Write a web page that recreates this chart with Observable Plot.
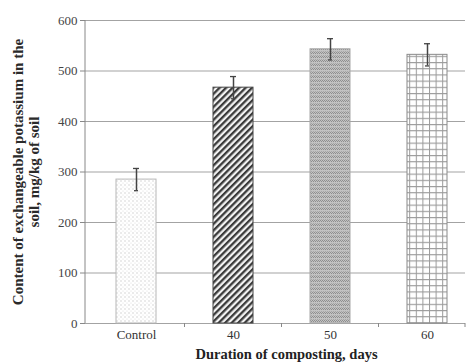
<!DOCTYPE html>
<html>
<head>
<meta charset="utf-8">
<script src="https://cdn.jsdelivr.net/npm/d3@7"></script>
<script src="https://cdn.jsdelivr.net/npm/@observablehq/plot@0.6"></script>
<style>
  html, body { margin: 0; padding: 0; background: #fff; }
  #chart svg { font-family: "Liberation Serif", "Times New Roman", serif; }
</style>
</head>
<body>
<div id="chart"></div>
<script>
const categories = ["Control", "40", "50", "60"];
const values = [285, 467, 543, 532];
const errors = [22, 22, 21, 22];
const yTicks = [0, 100, 200, 300, 400, 500, 600];
const yLabel = "Content of exchangeable potassium in the\nsoil, mg/kg of soil";
const xLabel = "Duration of composting, days";

const data = categories.map((c, i) => ({cat: c, value: values[i], err: errors[i], pat: `url(#pat${i})`}));
const borders = ["#b8b8b8", "#444", "#a8a8a8", "#8a8a8a"];

const W = 468, H = 363;
const mL = 85, mR = 3, mT = 20, mB = 40;

const plot = Plot.plot({
  width: W,
  height: H,
  marginLeft: mL,
  marginRight: mR,
  marginTop: mT,
  marginBottom: mB,
  style: {fontFamily: "'Liberation Serif', serif", fontSize: "12px", color: "#333", background: "#fff"},
  x: {domain: categories, range: [87, 475], paddingInner: 0.59, paddingOuter: 0.295, align: 0.5, label: null},
  y: {domain: [0, 600], ticks: yTicks, label: null},
  color: {type: "identity"},
  marks: [
    Plot.gridY(yTicks, {stroke: "#a3a3a3", strokeOpacity: 1, strokeWidth: 1.2}),
    Plot.barY(data, {x: "cat", y: "value", fill: "pat", stroke: (d, i) => borders[i], strokeWidth: 1}),
    Plot.ruleX(data, {x: "cat", y1: d => d.value - d.err, y2: d => d.value + d.err, stroke: "#444", strokeWidth: 1.5}),
    Plot.tickY(data, {x: "cat", y: d => d.value + d.err, stroke: "#444", strokeWidth: 1.3, insetLeft: 17, insetRight: 17}),
    Plot.tickY(data, {x: "cat", y: d => d.value - d.err, stroke: "#444", strokeWidth: 1.3, insetLeft: 18, insetRight: 18}),
    Plot.axisY(yTicks, {tickSize: 5, tickPadding: 3, stroke: "#888", fill: "#444", fontSize: 13}),
    Plot.axisX({tickSize: 0, tickPadding: 6, fill: "#333", fontSize: 13, label: null}),
    Plot.text([xLabel], {frameAnchor: "bottom", dx: 11, dy: 35, fontWeight: "bold", fontSize: 14.5, fill: "#222"}),
    Plot.text([yLabel], {frameAnchor: "left", dx: -60, rotate: -90, fontWeight: "bold", fontSize: 15, lineHeight: 1.08, fill: "#2a2a2a", textAnchor: "middle"})
  ]
});

const svg = d3.select(plot);
const defs = svg.insert("defs", ":first-child");

// Control: light dots
const p0 = defs.append("pattern").attr("id", "pat0").attr("patternUnits", "userSpaceOnUse").attr("width", 4).attr("height", 4);
p0.append("rect").attr("width", 4).attr("height", 4).attr("fill", "#fff");
p0.append("circle").attr("cx", 1).attr("cy", 1).attr("r", 0.7).attr("fill", "#c8c8c8");
p0.append("circle").attr("cx", 3).attr("cy", 3).attr("r", 0.6).attr("fill", "#dcdcdc");

// 40: dark diagonal stripes
const p1 = defs.append("pattern").attr("id", "pat1").attr("patternUnits", "userSpaceOnUse").attr("width", 4.6).attr("height", 4.6).attr("patternTransform", "rotate(45)");
p1.append("rect").attr("width", 4.6).attr("height", 4.6).attr("fill", "#f2f2f2");
p1.append("rect").attr("width", 2.3).attr("height", 4.6).attr("fill", "#3a3a3a");

// 50: fine gray zigzag texture
const p2 = defs.append("pattern").attr("id", "pat2").attr("patternUnits", "userSpaceOnUse").attr("width", 4).attr("height", 4);
p2.append("rect").attr("width", 4).attr("height", 4).attr("fill", "#c2c2c2");
p2.append("rect").attr("x", 0).attr("y", 0).attr("width", 1).attr("height", 1).attr("fill", "#8e8e8e");
p2.append("rect").attr("x", 1).attr("y", 1).attr("width", 1).attr("height", 1).attr("fill", "#8e8e8e");
p2.append("rect").attr("x", 2).attr("y", 0).attr("width", 1).attr("height", 1).attr("fill", "#8e8e8e");
p2.append("rect").attr("x", 3).attr("y", 1).attr("width", 1).attr("height", 1).attr("fill", "#8e8e8e");
p2.append("rect").attr("x", 1).attr("y", 3).attr("width", 1).attr("height", 1).attr("fill", "#a6a6a6");
p2.append("rect").attr("x", 3).attr("y", 3).attr("width", 1).attr("height", 1).attr("fill", "#a6a6a6");

// 60: grid
const p3 = defs.append("pattern").attr("id", "pat3").attr("patternUnits", "userSpaceOnUse").attr("width", 6.6).attr("height", 6.2);
p3.append("rect").attr("width", 6.6).attr("height", 6.2).attr("fill", "#fff");
p3.append("path").attr("d", "M0.5,0 V6.2 M0,0.5 H6.6").attr("stroke", "#9a9a9a").attr("stroke-width", 1).attr("fill", "none");

// y axis line and x category separators, through the plot's scales
const xs = plot.scale("x");
const ys = plot.scale("y");
const y0 = ys.apply(0), yTop = ys.apply(600);
svg.append("line").attr("x1", mL).attr("x2", mL).attr("y1", yTop).attr("y2", y0).attr("stroke", "#888");
const step = xs.step;
const seps = categories.slice(1).map(c => xs.apply(c) - (step - xs.bandwidth) / 2);
seps.push(W - mR);
svg.selectAll("line.sep").data(seps).join("line").attr("class", "sep")
  .attr("x1", d => d).attr("x2", d => d).attr("y1", y0).attr("y2", y0 + 4).attr("stroke", "#888");

document.getElementById("chart").appendChild(plot);
</script>
</body>
</html>
